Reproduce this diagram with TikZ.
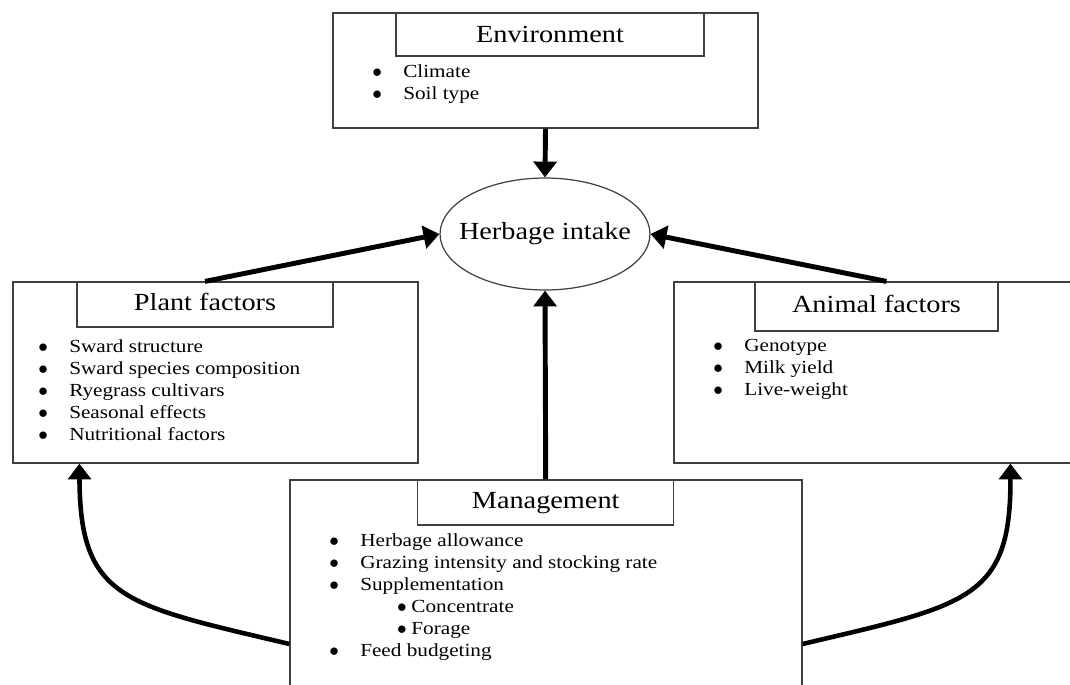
\documentclass[tikz,border=0pt]{standalone}
\usepackage{fontspec}
\setmainfont{Liberation Serif}[FakeStretch=1.15]
\usepackage{tikz}
\usetikzlibrary{arrows.meta,shapes.geometric}

\tikzset{
  box/.style={draw=black!75, line width=0.7pt, rectangle, inner sep=0pt},
  ttl/.style={box, font=\fontsize{14}{16}\selectfont, text height=9.3pt, text depth=2.5pt},
  lst/.style={anchor=north west, inner sep=0pt, align=left, font=\fontsize{10.5}{12.5}\selectfont},
  arr/.style={line width=2.8pt, -{Triangle[width=13pt,length=9pt]}}
}
\newcommand{\bul}{\makebox[17.6pt][l]{$\bullet$}}
\newcommand{\subbul}{\hspace*{38.5pt}\makebox[8.2pt][l]{$\bullet$}}

\begin{document}
\begin{tikzpicture}[x=0.02cm,y=-0.02cm]
\useasboundingbox (0,0) rectangle (1070,684);

\node[box, minimum width=8.5cm, minimum height=2.3cm] (env) at (545.5,70.5) {};
\node[ttl, minimum width=6.16cm, minimum height=0.86cm, text depth=0pt] (envT) at (550,34.5) {Environment};
\node[lst] (envL) at (372,64.4) {\bul Climate\\ \bul Soil type};

\node[ellipse, draw=black!75, line width=0.7pt, inner sep=0pt, minimum width=4.2cm, minimum height=2.24cm,
  font=\fontsize{14}{16}\selectfont] (hi) at (545,234) {\makebox[0pt]{Herbage intake}};

\node[box, minimum width=8.1cm, minimum height=3.62cm] (plant) at (215.5,372.5) {};
\node[ttl, minimum width=5.12cm, minimum height=0.9cm] (plantT) at (205,304.5) {Plant factors};
\node[lst] (plantL) at (38,339.4) {\bul Sward structure\\ \bul Sward species composition\\
  \bul Ryegrass cultivars\\ \bul Seasonal effects\\ \bul Nutritional factors};

\node[box, minimum width=8.32cm, minimum height=3.62cm] (animal) at (882,372.5) {};
\node[ttl, minimum width=4.86cm, minimum height=0.98cm] (animalT) at (876.5,306.5) {Animal factors};
\node[lst] (animalL) at (713,339.4) {\bul Genotype\\ \bul Milk yield\\ \bul Live-weight};

\node[box, minimum width=10.24cm, minimum height=6.56cm] (mgmt) at (546,644) {};
\node[ttl, minimum width=5.12cm, minimum height=0.9cm] (mgmtT) at (545.7,502.5) {Management};
\node[lst] (mgmtL) at (329,533.4) {\bul Herbage allowance\\ \bul Grazing intensity and stocking rate\\
  \bul Supplementation\\ \subbul Concentrate\\ \subbul Forage\\ \bul Feed budgeting};

\draw[arr] (env.south) -- (hi.north);
\draw[arr] (plantT.north) -- (hi.west);
\draw[arr] ([xshift=0.2cm]animalT.north) -- (hi.east);
\draw[arr] (mgmtT.north) -- (hi.south);
\draw[arr, line width=2.6pt] (mgmt.west) .. controls (125,605) and (80,600) .. ([xshift=1.34cm]plant.south west);
\draw[arr, line width=2.6pt] (mgmt.east) .. controls (967,605) and (1011,600) .. ([xshift=6.74cm]animal.south west);
\end{tikzpicture}
\end{document}
